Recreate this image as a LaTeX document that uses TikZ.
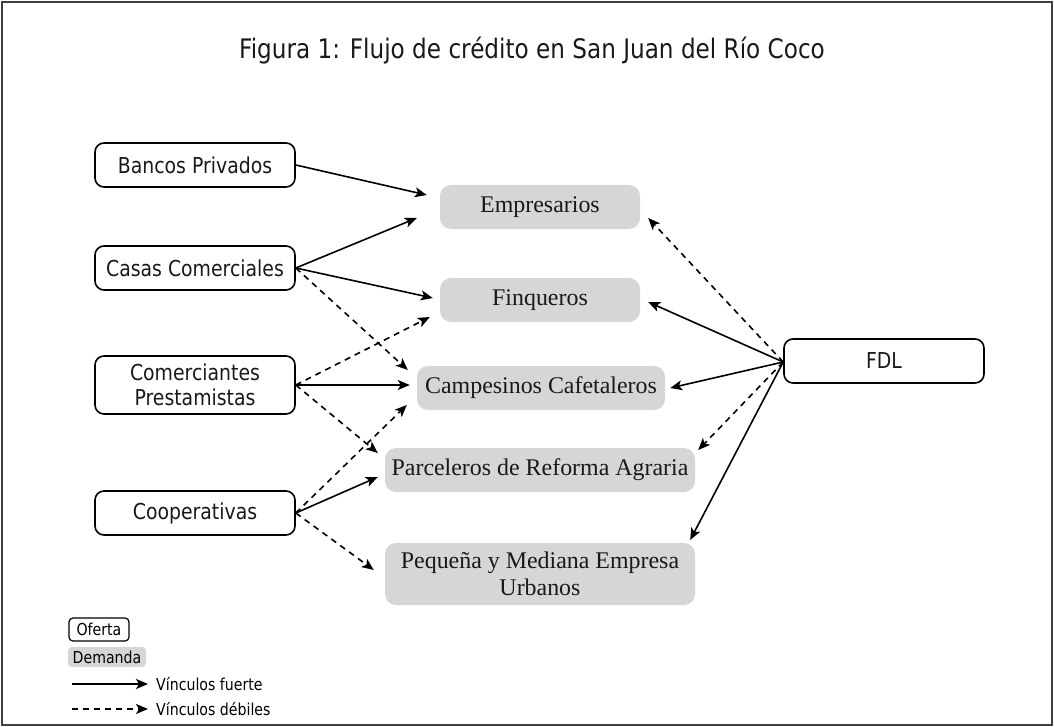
\documentclass[tikz,border=0pt]{standalone}
\usepackage{fontspec}
\setmainfont{Liberation Serif}
\newfontfamily\tahoma{DejaVu Sans}[FakeStretch=0.86]
\usetikzlibrary{arrows.meta,calc}
\definecolor{demgris}{RGB}{214,214,214}
\begin{document}
\begin{tikzpicture}[x=1bp,y=-1bp,
    oferta/.style={draw,rounded corners=9bp,line width=1.6bp,text=black!90,
      font=\tahoma\fontsize{22}{25}\selectfont,align=center,
      minimum width=200bp,minimum height=44bp,inner sep=0},
    demanda/.style={fill=demgris,rounded corners=11bp,text=black!90,
      font=\fontsize{24}{27}\selectfont,align=center,
      minimum height=44bp,inner sep=0},
    leyenda/.style={text=black,font=\tahoma\fontsize{16.5}{19}\selectfont,inner sep=0},
    fuerte/.style={-{Stealth[length=12bp,width=10bp,inset=3bp]},line width=1.6bp},
    debil/.style={fuerte,dash pattern=on 6bp off 5bp}]
    \useasboundingbox (0,0) rectangle (1054,727);
    \draw[line width=1.5bp,black!75] (2,2) rectangle (1052,725);
    \node[text=black!90,font=\tahoma\fontsize{27}{32}\selectfont] (titulo) at (532,51) {Figura 1: Flujo de crédito en San Juan del Río Coco};
    % oferta
    \node[oferta] (bancos) at (195,165) {Bancos Privados};
    \node[oferta] (casas) at (195,268) {Casas Comerciales};
    \node[oferta,minimum height=58bp] (comer) at (195,385) {Comerciantes\\Prestamistas};
    \node[oferta] (coop) at (195,513) {Cooperativas};
    \node[oferta] (fdl) at (884,361) {FDL};
    % demanda
    \node[demanda,minimum width=200bp] (empre) at (540,207) {Empresarios};
    \node[demanda,minimum width=200bp] (finq) at (540,300) {Finqueros};
    \node[demanda,minimum width=248bp] (campe) at (541,388) {Campesinos Cafetaleros};
    \node[demanda,minimum width=310bp] (parce) at (540,470) {Parceleros de Reforma Agraria};
    \node[demanda,minimum width=310bp,minimum height=62bp] (peque) at (540,574) {Pequeña y Mediana Empresa\\Urbanos};
    % vinculos
    \draw[fuerte] (bancos.east) -- ($(empre.west)+(-13,-12)$);
    \draw[fuerte] (casas.east) -- ($(empre.west)+(-23,11)$);
    \draw[fuerte] (casas.east) -- ($(finq.west)+(-7,-2)$);
    \draw[debil] (casas.east) -- ($(campe.west)+(-9,-18)$);
    \draw[debil] (comer.east) -- ($(finq.west)+(-10,17)$);
    \draw[fuerte] (comer.east) -- ($(campe.west)+(-7,-3)$);
    \draw[debil] (comer.east) -- ($(parce.west)+(-7,-17)$);
    \draw[debil] (coop.east) -- ($(campe.west)+(-10,17)$);
    \draw[fuerte] (coop.east) -- ($(parce.west)+(-7,7)$);
    \draw[debil] (coop.east) -- ($(peque.west)+(-11,-4)$);
    \draw[debil] ($(fdl.west)+(0,1)$) -- ($(empre.east)+(8,11)$);
    \draw[fuerte] ($(fdl.west)+(0,1)$) -- ($(finq.east)+(8,2)$);
    \draw[fuerte] ($(fdl.west)+(0,1)$) -- ($(campe.east)+(5,0)$);
    \draw[debil] ($(fdl.west)+(0,1)$) -- ($(parce.east)+(3,-20)$);
    \draw[fuerte] ($(fdl.west)+(0,1)$) -- ($(peque.east)+(-5,-34)$);
    % leyenda
    \node[leyenda,draw,line width=1.2bp,rounded corners=4bp,minimum width=60bp,minimum height=23bp] (leyof) at (99,629.5) {Oferta};
    \node[leyenda,fill=demgris,rounded corners=4bp,minimum width=78bp,minimum height=20bp] (leydem) at (107,657) {Demanda};
    \coordinate (lf0) at (72,684);
    \coordinate (lf1) at (148,684);
    \coordinate (ld0) at (72,709);
    \coordinate (ld1) at (148,709);
    \draw[fuerte] (lf0) -- (lf1);
    \draw[debil] (ld0) -- (ld1);
    \node[leyenda,anchor=west] (leyfu) at (156,684) {Vínculos fuerte};
    \node[leyenda,anchor=west] (leydb) at (156,709) {Vínculos débiles};
\end{tikzpicture}
\end{document}
